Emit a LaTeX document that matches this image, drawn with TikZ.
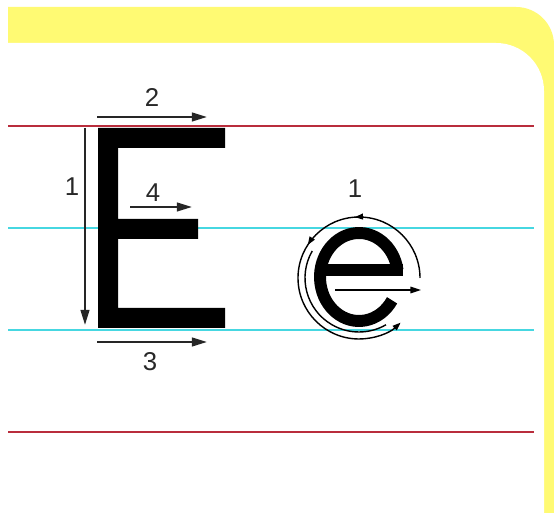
\documentclass[tikz,border=0pt]{standalone}
\usepackage{fontspec}
\setmainfont{Liberation Sans}
\usetikzlibrary{arrows.meta,decorations.markings}
\definecolor{padyellow}{RGB}{255,250,115}
\definecolor{guidered}{RGB}{185,45,60}
\definecolor{guidecyan}{RGB}{70,215,225}
\definecolor{digitgray}{RGB}{40,40,40}

\begin{document}
\begin{tikzpicture}[
  x=0.03cm, y=0.03cm,
  guide/.style={line width=1.6pt},
  stroke/.style={-{Triangle[length=13pt,width=7.5pt]}, line width=1.7pt, draw=black!85},
  num/.style={font=\fontsize{22}{22}\selectfont, text=digitgray, inner sep=0pt},
  pen/.style={line width=10.2pt},
  swirl/.style={-{Triangle[length=7pt,width=5pt]}, line width=1.2pt, postaction={decorate},
    decoration={markings,
      mark=at position 0.3 with {\arrow{Triangle[length=7pt,width=5pt]}},
      mark=at position 0.47 with {\arrow{Triangle[length=7pt,width=5pt]}}}}]
\useasboundingbox (0,0) rectangle (554,513);
\fill[white] (0,0) rectangle (554,513);
\fill[padyellow] (8,0) -- (8,506) -- (516,506) arc[start angle=90, end angle=0, radius=38] -- (554,0) -- cycle;
\fill[white] (0,0) -- (0,470) -- (496,470) arc[start angle=90, end angle=0, radius=48] -- (544,0) -- cycle;
\foreach \y/\c in {387/guidered, 285/guidecyan, 183/guidecyan, 81/guidered}
  \draw[guide, \c] (8,\y) -- (534,\y);
\fill (98,385) -- (225,385) -- (225,365) -- (118,365) -- (118,294) -- (198,294) -- (198,274)
  -- (118,274) -- (118,205) -- (225,205) -- (225,185) -- (98,185) -- cycle;
\coordinate (a1) at (85,385);  \coordinate (b1) at (85,188);
\coordinate (a2) at (97,396);  \coordinate (b2) at (207,396);
\coordinate (a3) at (97,171);  \coordinate (b3) at (207,171);
\coordinate (a4) at (130,306); \coordinate (b4) at (192,306);
\foreach \i in {1,...,4} \draw[stroke] (a\i) -- (b\i);
\node[num] (n1) at (72,326) {1};
\node[num] (n2) at (152,415) {2};
\node[num] (n3) at (150,151) {3};
\node[num] (n4) at (153,320) {4};
\coordinate (ec) at (359,236);
\draw[pen] (ec) ++(9:39 and 44) arc[start angle=9, end angle=328, x radius=39, y radius=44];
\draw[pen] (320,243) -- (403,243);
\coordinate (ea) at (335,223); \coordinate (eb) at (421,223);
\draw[-{Triangle[length=9pt,width=5.5pt]}, line width=1.3pt] (ea) -- (eb);
\coordinate (oc) at (359,235);
\draw[swirl] (oc) ++(0:61) arc[start angle=0, end angle=313, radius=61];
\draw[line width=1.2pt] (oc) ++(150:54) arc[start angle=150, end angle=300, radius=54];
\node[num] (n5) at (355,324) {1};
\end{tikzpicture}
\end{document}
